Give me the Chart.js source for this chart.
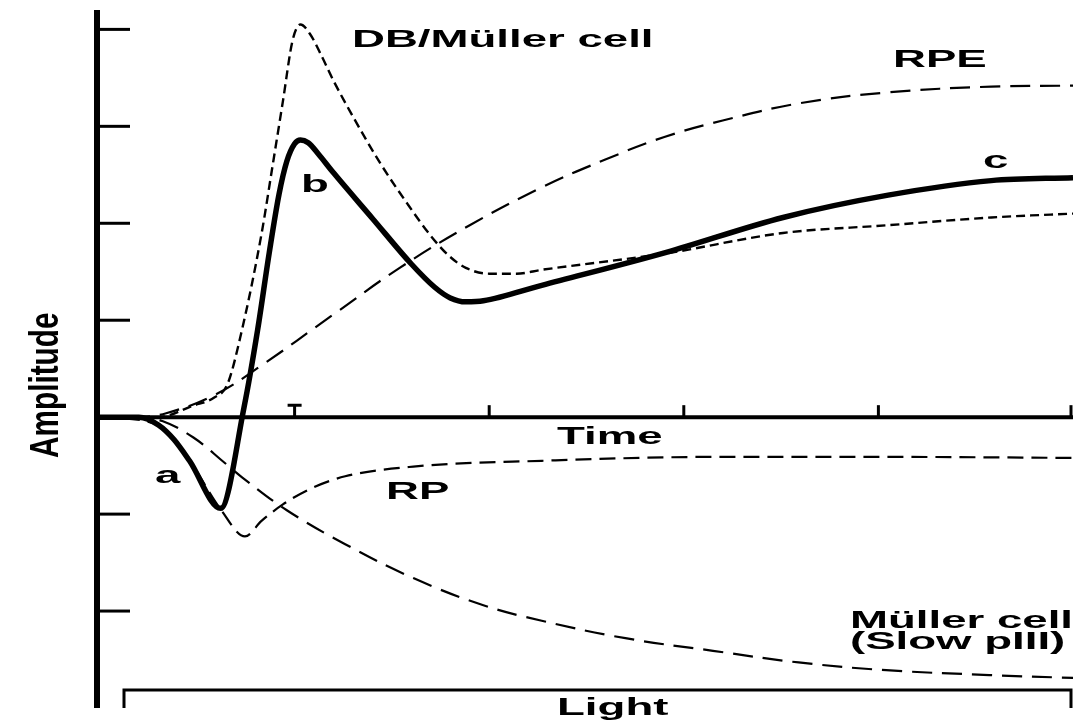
<!DOCTYPE html>
<html lang="en">
<head>
    <meta charset="UTF-8">
    <title>ERG Components</title>
    <script src="https://cdn.jsdelivr.net/npm/chart.js"></script>
    <style>
        body {
            margin: 0;
            background: #ffffff;
        }
        canvas {
            display: block;
        }
    </style>
</head>
<body>
    <canvas id="ergChart" width="1073" height="724"></canvas>

    <script>
        // ERG (thick solid line, a / b / c waves)
        const ergX = [0, 0.2, 0.3, 0.38, 0.46, 0.62, 0.74, 0.81, 0.87, 0.92, 0.96, 1.0, 1.03, 1.07, 1.12, 1.2, 1.4, 1.6, 1.72, 1.8, 1.88, 1.97, 2.27, 2.91, 3.51, 4.05, 4.58, 5.0];
        const ergY = [0, 0, -0.08, -0.23, -0.45, -0.94, 0.1, 0.9, 1.7, 2.3, 2.64, 2.82, 2.86, 2.83, 2.72, 2.52, 2.05, 1.58, 1.34, 1.23, 1.19, 1.2, 1.36, 1.7, 2.06, 2.29, 2.44, 2.47];

        // DB / Muller cell component
        const dbX = [0, 0.3, 0.48, 0.585, 0.655, 0.725, 0.83, 0.885, 0.94, 0.99, 1.03, 1.08, 1.14, 1.2, 1.3, 1.44, 1.58, 1.7, 1.79, 1.88, 2.0, 2.14, 2.27, 2.91, 3.51, 4.05, 4.58, 5.0];
        const dbY = [0, 0, 0.12, 0.2, 0.34, 0.86, 1.89, 2.57, 3.26, 3.89, 4.05, 3.95, 3.72, 3.47, 3.1, 2.62, 2.2, 1.87, 1.67, 1.54, 1.48, 1.48, 1.52, 1.69, 1.9, 1.98, 2.06, 2.1];

        // RPE component
        const rpeX = [0, 0.2, 0.34, 0.59, 0.82, 1.2, 1.54, 1.9, 2.27, 2.6, 2.9, 3.2, 3.6, 4.05, 4.58, 5.0];
        const rpeY = [0, 0, 0.04, 0.23, 0.52, 1.06, 1.54, 1.98, 2.37, 2.66, 2.89, 3.06, 3.24, 3.35, 3.41, 3.42];

        // Receptor potential
        const rpX = [0, 0.3, 0.46, 0.62, 0.745, 0.83, 0.94, 1.08, 1.26, 1.61, 2.27, 3.15, 4.05, 5.0];
        const rpY = [0, -0.08, -0.45, -0.95, -1.23, -1.07, -0.9, -0.74, -0.61, -0.51, -0.45, -0.41, -0.41, -0.42];

        // Muller cell (slow PIII)
        const slowX = [0, 0.2, 0.32, 0.48, 0.64, 0.73, 0.96, 1.26, 1.61, 1.97, 2.27, 2.7, 3.15, 3.59, 4.04, 4.57, 5.0];
        const slowY = [0, 0, -0.04, -0.21, -0.47, -0.62, -0.96, -1.31, -1.66, -1.94, -2.1, -2.28, -2.41, -2.53, -2.61, -2.66, -2.69];

        const yTicks = [4, 3, 2, 1, -1, -2];
        const xTicks = [1, 2, 3, 4, 5];

        function pts(xs, ys) {
            return xs.map((x, i) => ({ x: x, y: ys[i] }));
        }

        // text is stretched sideways like in the scanned figure
        function wideText(ctx, text, x, y, sx) {
            ctx.save();
            ctx.translate(x, y);
            ctx.scale(sx, 1);
            ctx.fillText(text, 0, 0);
            ctx.restore();
        }

        const decorations = {
            id: 'decorations',
            afterDraw(chart) {
                const ctx = chart.ctx;
                const xs = chart.scales.x;
                const ys = chart.scales.y;
                const x0 = xs.getPixelForValue(0);
                const y0 = ys.getPixelForValue(0);
                ctx.save();
                ctx.strokeStyle = '#000';
                ctx.fillStyle = '#000';
                ctx.lineCap = 'butt';

                // y axis
                ctx.lineWidth = 6;
                ctx.beginPath();
                ctx.moveTo(x0 - 3, chart.chartArea.top);
                ctx.lineTo(x0 - 3, chart.chartArea.bottom);
                ctx.stroke();

                // y ticks pointing inward
                ctx.lineWidth = 3;
                yTicks.forEach(v => {
                    const py = ys.getPixelForValue(v);
                    ctx.beginPath();
                    ctx.moveTo(x0, py);
                    ctx.lineTo(x0 + 30, py);
                    ctx.stroke();
                });

                // x axis at zero
                ctx.lineWidth = 4;
                ctx.beginPath();
                ctx.moveTo(x0, y0);
                ctx.lineTo(chart.chartArea.right, y0);
                ctx.stroke();

                // x ticks pointing up
                ctx.lineWidth = 3;
                xTicks.forEach((v, i) => {
                    let px = xs.getPixelForValue(v);
                    if (px > chart.width - 2) px = chart.width - 2;
                    ctx.beginPath();
                    ctx.moveTo(px, y0);
                    ctx.lineTo(px, y0 - 12);
                    if (i === 0) {
                        ctx.moveTo(px - 7, y0 - 12);
                        ctx.lineTo(px + 7, y0 - 12);
                    }
                    ctx.stroke();
                });

                // light stimulus bar
                ctx.lineWidth = 3;
                ctx.beginPath();
                ctx.moveTo(124, 708);
                ctx.lineTo(124, 690);
                ctx.lineTo(1071, 690);
                ctx.lineTo(1071, 708);
                ctx.stroke();

                // labels
                ctx.font = 'bold 24px "Liberation Sans", Arial, sans-serif';
                ctx.textAlign = 'left';
                ctx.textBaseline = 'alphabetic';
                wideText(ctx, 'DB/Müller cell', 352, 47, 1.9);
                wideText(ctx, 'RPE', 893, 67, 1.9);
                wideText(ctx, 'b', 301, 192, 1.9);
                wideText(ctx, 'c', 983, 168, 1.9);
                wideText(ctx, 'a', 155, 483, 1.9);
                wideText(ctx, 'RP', 386, 499, 1.9);
                wideText(ctx, 'Müller cell', 850, 628, 1.9);
                wideText(ctx, '(Slow pIII)', 850, 649, 1.9);
                wideText(ctx, 'Time', 557, 444, 1.9);
                wideText(ctx, 'Light', 557, 715, 1.9);

                // rotated axis title
                ctx.save();
                ctx.translate(58, 458);
                ctx.rotate(-Math.PI / 2);
                ctx.scale(1.24, 1.72);
                ctx.fillText('Amplitude', 0, 0);
                ctx.restore();

                ctx.restore();
            }
        };

        const ctx = document.getElementById('ergChart').getContext('2d');
        new Chart(ctx, {
            type: 'line',
            data: {
                datasets: [
                    {
                        label: 'DB/Müller cell',
                        data: pts(dbX, dbY),
                        borderColor: '#000',
                        borderWidth: 2.4,
                        borderDash: [9, 5]
                    },
                    {
                        label: 'RPE',
                        data: pts(rpeX, rpeY),
                        borderColor: '#000',
                        borderWidth: 2.2,
                        borderDash: [20, 10],
                        cubicInterpolationMode: 'default',
                        tension: 0.4
                    },
                    {
                        label: 'RP',
                        data: pts(rpX, rpY),
                        borderColor: '#000',
                        borderWidth: 2.2,
                        borderDash: [16, 8]
                    },
                    {
                        label: 'Müller cell (Slow PIII)',
                        data: pts(slowX, slowY),
                        borderColor: '#000',
                        borderWidth: 2.2,
                        borderDash: [20, 10],
                        cubicInterpolationMode: 'default',
                        tension: 0.4
                    },
                    {
                        label: 'ERG',
                        data: pts(ergX, ergY),
                        borderColor: '#000',
                        borderWidth: 5.5
                    }
                ]
            },
            options: {
                responsive: false,
                animation: false,
                parsing: false,
                layout: {
                    padding: { left: 100, right: 0, top: 10, bottom: 16 }
                },
                elements: {
                    point: { radius: 0 },
                    line: { cubicInterpolationMode: 'monotone', fill: false }
                },
                plugins: {
                    legend: { display: false },
                    tooltip: { enabled: false }
                },
                scales: {
                    x: { type: 'linear', min: 0, max: 5, display: false },
                    y: { type: 'linear', min: -3, max: 4.2, display: false }
                }
            },
            plugins: [decorations]
        });
    </script>
</body>
</html>
